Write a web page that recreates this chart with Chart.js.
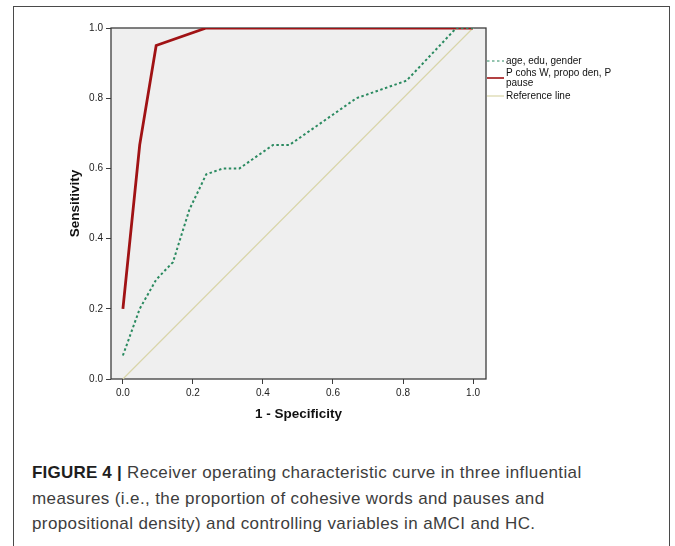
<!DOCTYPE html>
<html>
<head>
<meta charset="utf-8">
<script src="https://cdn.jsdelivr.net/npm/chart.js@4"></script>
<style>
  html, body { margin: 0; padding: 0; background: #fff; overflow: hidden; }
  body { width: 675px; height: 546px; position: relative; }
  #frame { position: absolute; left: 13px; top: 6px; width: 655px; height: 600px; border: 1px solid #4a4a4a; }
  #roc { position: absolute; left: 0; top: 0; }
  #caption {
    position: absolute; left: 32px; top: 460px; width: 630px;
    font-family: "Liberation Sans", Arial, sans-serif; font-size: 17px; line-height: 25.5px;
    letter-spacing: 0.38px; color: #3d3d3d; white-space: nowrap;
  }
  #caption b { color: #1e1e1e; letter-spacing: 0.2px; }
</style>
</head>
<body>
<div id="frame"></div>
<canvas id="roc" width="675" height="430"></canvas>
<div id="caption"><b>FIGURE 4 |</b> Receiver operating characteristic curve in three influential<br>measures (i.e., the proportion of cohesive words and pauses and<br>propositional density) and controlling variables in aMCI and HC.</div>
<script>
// ROC curve points
const seriesNames = ['age, edu, gender', 'P cohs W, propo den, P pause', 'Reference line'];
const controlFpr = [0, 0.048, 0.095, 0.143, 0.19, 0.238, 0.286, 0.333, 0.429, 0.476, 0.667, 0.81, 0.905, 0.952, 1.0];
const controlTpr = [0.067, 0.2, 0.283, 0.333, 0.483, 0.583, 0.6, 0.6, 0.667, 0.667, 0.8, 0.85, 0.95, 1.0, 1.0];
const measureFpr = [0, 0.048, 0.095, 0.238, 1.0];
const measureTpr = [0.2, 0.667, 0.95, 1.0, 1.0];
const refFpr = [0, 1];
const refTpr = [0, 1];
const xTicks = [0, 0.2, 0.4, 0.6, 0.8, 1.0];
const yTicks = [0, 0.2, 0.4, 0.6, 0.8, 1.0];

const toPoints = (xs, ys) => xs.map((x, i) => ({ x: x, y: ys[i] }));
const fontFamily = '"Liberation Sans", Arial, sans-serif';

// grey plot background and dark frame
const plotFrame = {
    id: 'plotFrame',
    beforeDatasetsDraw(chart) {
        const { ctx, chartArea: a } = chart;
        ctx.save();
        ctx.fillStyle = '#efefef';
        ctx.fillRect(a.left, a.top, a.right - a.left, a.bottom - a.top);
        ctx.strokeStyle = '#3c3c3c';
        ctx.lineWidth = 1.3;
        ctx.strokeRect(a.left, a.top, a.right - a.left, a.bottom - a.top);
        ctx.restore();
    }
};

// SPSS style legend hanging off the right edge of the plot
const sideLegend = {
    id: 'sideLegend',
    afterDraw(chart) {
        const { ctx, chartArea: a } = chart;
        const rows = [33, 50, 68];
        ctx.save();
        ctx.font = '10px ' + fontFamily;
        ctx.textBaseline = 'middle';
        chart.data.datasets.forEach((ds, i) => {
            // wrap long names
            const words = ds.label.split(' ');
            const lines = [];
            let cur = '';
            words.forEach(w => {
                const t = cur ? cur + ' ' + w : w;
                if (ctx.measureText(t).width > 118 && cur) { lines.push(cur); cur = w; }
                else cur = t;
            });
            lines.push(cur);
            const cy = a.top + rows[i];
            ctx.strokeStyle = ds.borderColor;
            ctx.lineWidth = i === 1 ? 1.6 : 1.2;
            ctx.setLineDash(ds.borderDash || []);
            ctx.beginPath();
            ctx.moveTo(a.right + 1, cy);
            ctx.lineTo(a.right + 18, cy);
            ctx.stroke();
            ctx.setLineDash([]);
            ctx.fillStyle = '#111';
            const top = cy - (lines.length - 1) * 9.5 / 2;
            lines.forEach((l, j) => ctx.fillText(l, a.right + 20, top + j * 9.5));
        });
        ctx.restore();
    }
};

new Chart(document.getElementById('roc'), {
    type: 'scatter',
    data: {
        datasets: [
            {
                label: seriesNames[0],
                data: toPoints(controlFpr, controlTpr),
                showLine: true,
                borderColor: '#2a8a60',
                borderWidth: 2,
                borderDash: [2.5, 2.5],
                pointRadius: 0,
                tension: 0
            },
            {
                label: seriesNames[1],
                data: toPoints(measureFpr, measureTpr),
                showLine: true,
                borderColor: '#a01214',
                borderWidth: 2.8,
                pointRadius: 0,
                tension: 0
            },
            {
                label: seriesNames[2],
                data: toPoints(refFpr, refTpr),
                showLine: true,
                borderColor: '#d9d5a8',
                borderWidth: 1.2,
                pointRadius: 0,
                tension: 0
            }
        ]
    },
    options: {
        responsive: false,
        animation: false,
        devicePixelRatio: 1,
        layout: { padding: { left: 67.5, top: 28, right: 189, bottom: 7.5 } },
        plugins: {
            legend: { display: false },
            tooltip: { enabled: false }
        },
        scales: {
            x: {
                type: 'linear',
                min: -0.034,
                max: 1.037,
                afterBuildTicks: scale => { scale.ticks = xTicks.map(v => ({ value: v })); },
                afterFit: scale => { scale.height = 43.5; },
                border: { display: false },
                grid: { drawOnChartArea: false, drawTicks: true, tickLength: 5, color: '#3c3c3c' },
                ticks: {
                    padding: 3,
                    color: '#222',
                    font: { family: fontFamily, size: 10 },
                    callback: v => v.toFixed(1)
                },
                title: {
                    display: true,
                    text: '1 - Specificity',
                    color: '#111',
                    padding: 0,
                    font: { family: fontFamily, size: 13.5, weight: 'bold' }
                }
            },
            y: {
                type: 'linear',
                min: 0,
                max: 1,
                afterBuildTicks: scale => { scale.ticks = yTicks.map(v => ({ value: v })); },
                afterFit: scale => { scale.width = 43.5; },
                border: { display: false },
                grid: { drawOnChartArea: false, drawTicks: true, tickLength: 5, color: '#3c3c3c' },
                ticks: {
                    padding: 3,
                    color: '#222',
                    font: { family: fontFamily, size: 10 },
                    callback: v => v.toFixed(1)
                },
                title: {
                    display: true,
                    text: 'Sensitivity',
                    color: '#111',
                    padding: 0,
                    font: { family: fontFamily, size: 13.5, weight: 'bold' }
                }
            }
        }
    },
    plugins: [plotFrame, sideLegend]
});
</script>
</body>
</html>
